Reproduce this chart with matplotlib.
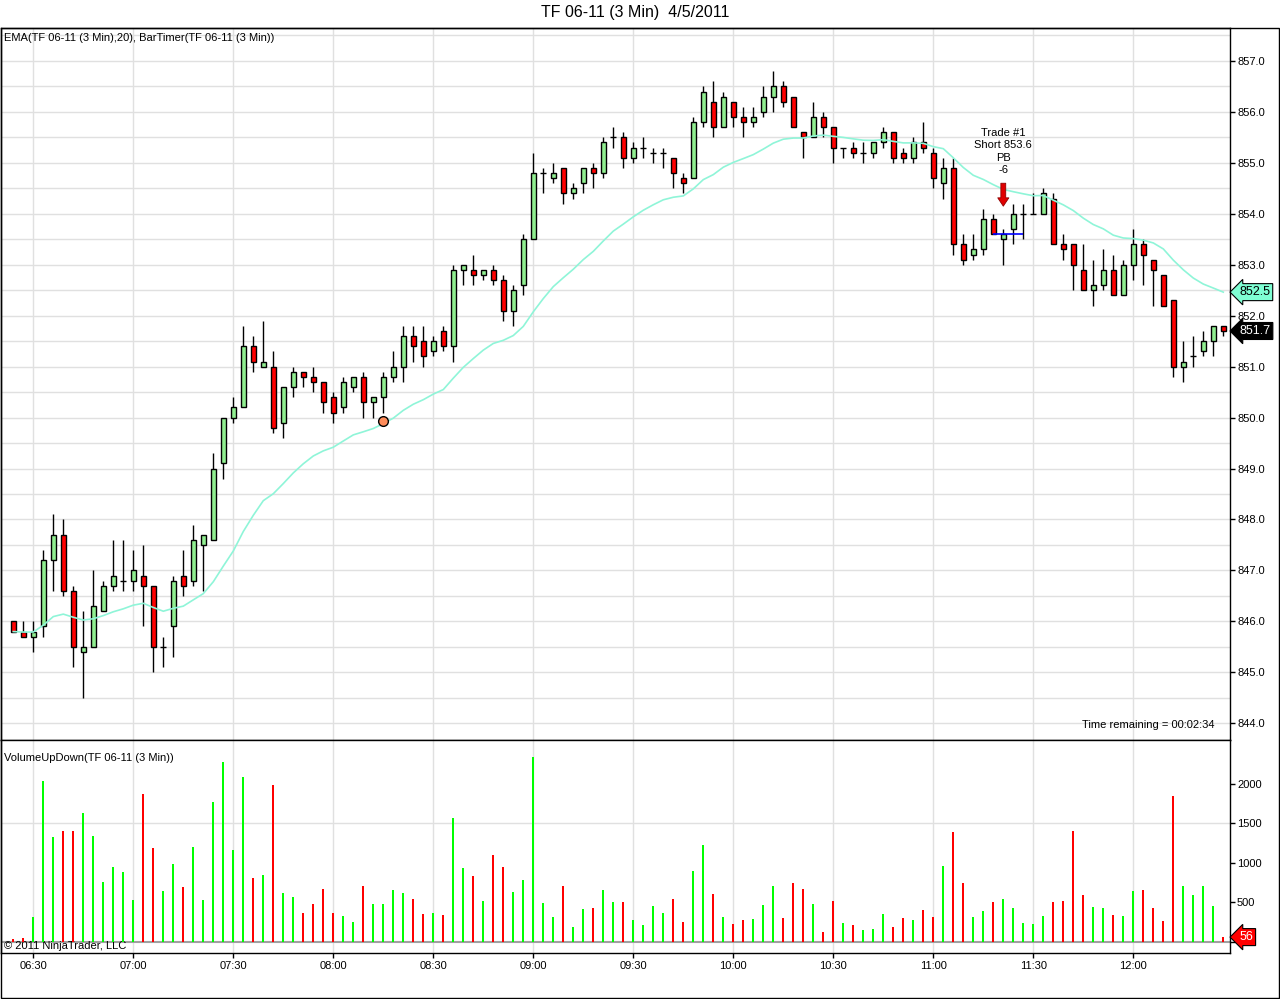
import matplotlib
matplotlib.use('Agg')
import matplotlib.pyplot as plt
import numpy as np
import pandas as pd
from matplotlib.patches import Rectangle
from matplotlib.transforms import blended_transform_factory

plt.rcParams['font.family'] = ['Liberation Sans', 'DejaVu Sans']

# ---------------- data ----------------
title = "TF 06-11 (3 Min)  4/5/2011"
start_time = "2011-04-05 06:24"
bar_minutes = 3

opens = [846.0, 845.8, 845.7, 845.9, 847.2, 847.7, 846.6, 845.4, 845.5, 846.2,
         846.7, 846.8, 846.8, 846.9, 846.7, 845.5, 845.9, 846.9, 846.8, 847.5,
         847.6, 849.1, 850.0, 850.2, 851.4, 851.0, 851.0, 849.9, 850.6, 850.9,
         850.8, 850.7, 850.4, 850.2, 850.6, 850.8, 850.3, 850.4, 850.8, 851.0,
         851.6, 851.5, 851.3, 851.7, 851.4, 852.9, 852.9, 852.8, 852.9, 852.7,
         852.1, 852.6, 853.5, 854.8, 854.7, 854.9, 854.4, 854.6, 854.9, 854.8,
         855.5, 855.5, 855.1, 855.3, 855.2, 855.2, 855.1, 854.7, 854.7, 855.8,
         856.2, 855.7, 856.2, 855.9, 855.8, 856.0, 856.3, 856.5, 856.3, 855.6,
         855.5, 855.9, 855.7, 855.3, 855.3, 855.2, 855.2, 855.4, 855.6, 855.2,
         855.1, 855.4, 855.2, 854.6, 854.9, 853.4, 853.2, 853.3, 853.9, 853.5,
         853.7, 854.0, 854.0, 854.0, 854.3, 853.4, 853.4, 852.9, 852.5, 852.6,
         852.9, 852.4, 853.0, 853.4, 853.1, 852.8, 852.3, 851.0, 851.2, 851.3,
         851.5, 851.8]
highs = [846.0, 846.0, 846.0, 847.4, 848.1, 848.0, 846.7, 846.2, 847.0, 846.8,
         847.6, 847.6, 847.4, 847.5, 846.7, 845.7, 846.9, 847.4, 847.9, 847.7,
         849.3, 850.0, 850.4, 851.8, 851.6, 851.9, 851.3, 850.6, 851.0, 850.9,
         851.0, 850.7, 850.5, 850.8, 850.8, 850.9, 850.4, 850.9, 851.3, 851.8,
         851.8, 851.8, 851.6, 851.8, 853.0, 853.0, 853.2, 852.9, 853.0, 852.8,
         852.6, 853.6, 855.2, 854.9, 855.0, 854.9, 854.6, 854.9, 855.0, 855.5,
         855.7, 855.6, 855.4, 855.5, 855.3, 855.3, 855.1, 854.8, 855.9, 856.5,
         856.6, 856.4, 856.2, 856.1, 856.1, 856.5, 856.8, 856.6, 856.3, 855.6,
         856.2, 856.0, 855.7, 855.3, 855.4, 855.4, 855.4, 855.7, 855.6, 855.3,
         855.5, 855.8, 855.3, 855.1, 855.1, 853.6, 853.6, 854.1, 854.0, 853.7,
         854.2, 854.2, 854.4, 854.5, 854.4, 853.6, 853.4, 853.4, 853.1, 853.3,
         853.2, 853.1, 853.7, 853.5, 853.1, 852.8, 852.3, 851.5, 851.6, 851.7,
         851.8, 851.8]
lows = [845.8, 845.7, 845.4, 845.7, 846.6, 846.5, 845.1, 844.5, 845.5, 846.2,
        846.6, 846.6, 846.6, 845.9, 845.0, 845.1, 845.3, 846.5, 846.7, 846.6,
        847.6, 848.8, 849.9, 850.2, 850.9, 851.0, 849.7, 849.6, 850.4, 850.6,
        850.5, 850.1, 849.9, 850.1, 850.5, 850.0, 850.0, 850.1, 850.7, 850.7,
        851.1, 851.0, 851.2, 851.3, 851.1, 852.6, 852.6, 852.7, 852.6, 851.9,
        851.8, 852.4, 853.5, 854.4, 854.6, 854.2, 854.3, 854.4, 854.5, 854.7,
        855.3, 854.9, 855.0, 855.1, 855.0, 854.9, 854.5, 854.4, 854.7, 855.7,
        855.5, 855.7, 855.7, 855.5, 855.7, 855.9, 856.0, 856.1, 855.7, 855.1,
        855.5, 855.5, 855.0, 855.1, 855.1, 855.0, 855.1, 855.3, 855.0, 855.0,
        855.0, 855.2, 854.5, 854.3, 853.2, 853.0, 853.1, 853.2, 853.6, 853.0,
        853.4, 853.5, 854.0, 854.0, 853.4, 853.1, 852.5, 852.5, 852.2, 852.5,
        852.4, 852.4, 852.7, 852.6, 852.2, 852.2, 850.8, 850.7, 851.0, 851.2,
        851.2, 851.6]
closes = [845.8, 845.7, 845.8, 847.2, 847.7, 846.6, 845.5, 845.5, 846.3, 846.7,
          846.9, 846.8, 847.0, 846.7, 845.5, 845.5, 846.8, 846.7, 847.6, 847.7,
          849.0, 850.0, 850.2, 851.4, 851.1, 851.1, 849.8, 850.6, 850.9, 850.8,
          850.7, 850.3, 850.1, 850.7, 850.8, 850.3, 850.4, 850.8, 851.0, 851.6,
          851.4, 851.2, 851.5, 851.4, 852.9, 853.0, 852.8, 852.9, 852.7, 852.1,
          852.5, 853.5, 854.8, 854.8, 854.8, 854.4, 854.5, 854.9, 854.8, 855.4,
          855.5, 855.1, 855.3, 855.3, 855.2, 855.2, 854.8, 854.6, 855.8, 856.4,
          855.7, 856.3, 855.9, 855.8, 855.9, 856.3, 856.5, 856.2, 855.7, 855.5,
          855.9, 855.7, 855.3, 855.3, 855.2, 855.2, 855.4, 855.6, 855.1, 855.1,
          855.4, 855.3, 854.7, 854.9, 853.4, 853.1, 853.3, 853.9, 853.6, 853.6,
          854.0, 854.0, 854.0, 854.4, 853.4, 853.3, 853.0, 852.5, 852.6, 852.9,
          852.4, 853.0, 853.4, 853.2, 852.9, 852.2, 851.0, 851.1, 851.2, 851.5,
          851.8, 851.7]
volumes = [35, 47, 313, 2042, 1328, 1404, 1404, 1632, 1340, 757,
           947, 884, 529, 1873, 1188, 643, 985, 693, 1201, 529,
           1772, 2279, 1163, 2089, 808, 846, 1987, 617, 567, 364,
           478, 668, 364, 326, 249, 706, 478, 478, 655, 617,
           541, 351, 364, 338, 1569, 934, 833, 516, 1099, 947,
           630, 782, 2342, 490, 313, 706, 186, 414, 427, 655,
           503, 503, 275, 211, 452, 364, 541, 249, 896, 1226,
           605, 313, 224, 275, 288, 465, 706, 300, 744, 668,
           478, 123, 516, 237, 211, 148, 161, 351, 186, 300,
           275, 402, 313, 960, 1391, 744, 313, 389, 503, 541,
           427, 237, 224, 326, 503, 516, 1404, 592, 440, 427,
           338, 326, 643, 655, 427, 262, 1848, 706, 592, 706,
           452, 56]

ema_period = 20
price_ticks = [844.0, 845.0, 846.0, 847.0, 848.0, 849.0, 850.0, 851.0,
               852.0, 853.0, 854.0, 855.0, 856.0, 857.0]
price_grid_step = 0.5
vol_ticks = [0, 500, 1000, 1500, 2000]
vol_grid = [1500]

trade_bar = 99
trade_price = 853.6
trade_arrow_top = 854.6
trade_arrow_bottom = 854.15
trade_label = "Trade #1\nShort 853.6\nPB\n-6"
trade_line_bars = [98, 101]
dot_bar = 37
dot_price = 849.93
time_remaining = "Time remaining = 00:02:34"
price_legend = "EMA(TF 06-11 (3 Min),20), BarTimer(TF 06-11 (3 Min))"
vol_legend = "VolumeUpDown(TF 06-11 (3 Min))"
copyright_text = "\u00a9 2011 NinjaTrader, LLC"

# ---------------- derived ----------------
o = np.array(opens); h = np.array(highs); l = np.array(lows); c = np.array(closes)
v = np.array(volumes)
n = len(c)
x = np.arange(n)
times = pd.date_range(start_time, periods=n, freq=f"{bar_minutes}min")
ema = pd.Series(c).ewm(span=ema_period, adjust=False).mean().values
up = c >= o

GREEN_BODY = '#90EE90'
RED = '#FF0000'
VOL_GREEN = '#00FF00'
GRID = '#E0E0E0'
EMA_COL = '#8FF5D8'

W, H = 1280, 999
fig = plt.figure(figsize=(W / 100, H / 100), dpi=100)
def fx(px): return px / W
def fy(py): return 1 - py / H

ax = fig.add_axes([fx(1), fy(740), fx(1230) - fx(1), fy(27.5) - fy(740)])
ax2 = fig.add_axes([fx(1), fy(953), fx(1230) - fx(1), fy(740) - fy(953)], sharex=ax)

ax.set_xlim(-1.23, 121.67)
ax.set_ylim(843.672, 857.657)
ax2.set_ylim(-146, 2560)

for a in (ax, ax2):
    for s in a.spines.values():
        s.set_color('black'); s.set_linewidth(1)
    a.set_facecolor('white')

# grid
tick_idx = [i for i, t in enumerate(times) if t.minute % 30 == 0]
tick_lab = [times[i].strftime('%H:%M') for i in tick_idx]
for i in tick_idx:
    ax.axvline(i, color=GRID, lw=1, zorder=0)
    ax2.axvline(i, color=GRID, lw=1, zorder=0)
for lv in np.arange(price_ticks[0] - 0.5, price_ticks[-1] + 0.51, price_grid_step):
    ax.axhline(lv, color=GRID, lw=1, zorder=0)
for lv in vol_grid:
    ax2.axhline(lv, color=GRID, lw=1, zorder=0)

# candles
ax.vlines(x, l, h, color='black', lw=1, zorder=2)
body_bot = np.minimum(o, c)
body_h = np.abs(c - o)
is_doji = body_h < 1e-9
cols = np.array([GREEN_BODY if u else RED for u in up])
ax.bar(x[~is_doji], body_h[~is_doji], bottom=body_bot[~is_doji], width=0.5,
       color=cols[~is_doji], edgecolor='black', linewidth=1, zorder=3)
ax.hlines(c[is_doji], x[is_doji] - 0.3, x[is_doji] + 0.3, color='black', lw=1, zorder=3)

# EMA
ax.plot(x, ema, color=EMA_COL, lw=1.2, zorder=4)

# trade marker
ax.annotate('', xy=(trade_bar, trade_arrow_bottom), xytext=(trade_bar, trade_arrow_top),
            arrowprops=dict(facecolor='#E00000', edgecolor='#900000', width=3.5,
                            headwidth=8, headlength=6, lw=0.6), zorder=6)
ax.annotate(trade_label, xy=(trade_bar, trade_arrow_top), xytext=(0, 6),
            textcoords='offset points', ha='center', va='bottom', fontsize=8,
            linespacing=1.3, zorder=6)
ax.hlines(trade_price, trade_line_bars[0], trade_line_bars[1], color='#0000FF', lw=1.2, zorder=5)

# dot
ax.plot([dot_bar], [dot_price], 'o', ms=7, mfc='#FF8C5A', mec='black', mew=1, zorder=6)

# texts
ax.text(0.0025, 0.985, price_legend, transform=ax.transAxes,
        ha='left', va='center', fontsize=8)
ax.text(0.987, 0.021, time_remaining, transform=ax.transAxes, ha='right', va='center', fontsize=8)
ax2.text(0.0025, 0.915, vol_legend, transform=ax2.transAxes, ha='left', va='center', fontsize=8)
ax2.text(0.0025, 0.033, copyright_text, transform=ax2.transAxes, ha='left', va='center', fontsize=8)
fig.text(635 / W, fy(13), title, ha='center', va='center', fontsize=11.5)

# y ticks
ax.yaxis.tick_right()
ax.set_yticks(price_ticks)
ax.set_yticklabels([f"{p:.1f}" for p in price_ticks])
ax.tick_params(axis='y', direction='out', length=3.6, width=1, labelsize=8, pad=1.5)
ax.tick_params(axis='x', bottom=False, labelbottom=False)
ax2.yaxis.tick_right()
ax2.set_yticks(vol_ticks)
ax2.set_yticklabels([str(t) for t in vol_ticks])
ax2.tick_params(axis='y', direction='out', length=3.6, width=1, labelsize=8, pad=1.5)
ax2.set_xticks(tick_idx)
ax2.set_xticklabels(tick_lab)
ax2.tick_params(axis='x', direction='out', length=3.6, width=1, labelsize=8, pad=2)

# volume bars
ax2.bar(x, v, width=0.2, color=[VOL_GREEN if u else RED for u in up], zorder=3)
ax2.axhline(0, color='#A0A0A0', lw=1.5, zorder=2)

# flags
bt = blended_transform_factory(ax.transAxes, ax.transData)
ax.text(1.0075, ema[-1], f"{ema[-1]:.1f}", transform=bt, ha='left', va='center', fontsize=9,
        bbox=dict(boxstyle='larrow,pad=0.2', fc='#7FFFD4', ec='black', lw=0.8), clip_on=False, zorder=10)
ax.text(1.0075, c[-1], f"{c[-1]:.1f}", transform=bt, ha='left', va='center', fontsize=9, color='white',
        bbox=dict(boxstyle='larrow,pad=0.2', fc='black', ec='black', lw=0.8), clip_on=False, zorder=10)
bt2 = blended_transform_factory(ax2.transAxes, ax2.transData)
ax2.text(1.0075, v[-1], f"{v[-1]}", transform=bt2, ha='left', va='center', fontsize=9, color='white',
         bbox=dict(boxstyle='larrow,pad=0.2', fc='#FF0000', ec='black', lw=0.8), clip_on=False, zorder=10)

# outer frame
fig.add_artist(Rectangle((fx(0.5), fy(998)), fx(1279) - fx(0.5), fy(27.5) - fy(998),
                         transform=fig.transFigure, fill=False, ec='black', lw=1))

fig.savefig('out.png', dpi=100)
